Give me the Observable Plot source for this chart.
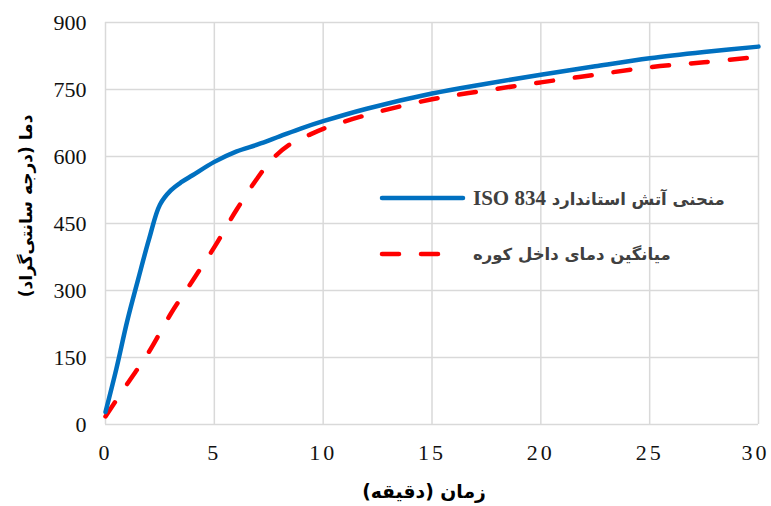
<!DOCTYPE html>
<html><head><meta charset="utf-8">
<script src="https://cdn.jsdelivr.net/npm/d3@7"></script>
<script src="https://cdn.jsdelivr.net/npm/@observablehq/plot@0.6"></script>
<style>
html,body{margin:0;padding:0;background:#fff;}
#wrap{position:relative;width:771px;height:506px;}
.leg{position:absolute;left:473px;white-space:nowrap;font-family:"DejaVu Sans",sans-serif;font-weight:bold;font-size:16.5px;color:#404040;line-height:20px;}
.leg b{font-family:"Liberation Serif",serif;font-size:21px;}
</style>
</head><body><div id="wrap"></div>
<script>
const isoTime = [0, 0.5, 1, 1.5, 2, 2.5, 3, 3.5, 4, 5, 6, 7, 8, 9, 10, 12, 15, 17.5, 20, 22.5, 25, 27.5, 30];
const isoTemp = [28, 125, 232, 325, 415, 492, 524, 543, 558, 588, 611, 627, 645, 663, 679, 707, 741, 763, 783, 802, 820, 834, 846];
const furnaceTime = [0, 1, 2, 3, 4, 5, 6, 7, 7.6, 8.4, 9.3, 10, 12, 15, 17.5, 20, 22.5, 25, 27.5, 30];
const furnaceTemp = [18, 91, 163, 248, 322, 397, 479, 553, 591, 625, 647, 662, 693, 728, 748, 766, 783, 800, 811, 823];
const xTicks = [0, 5, 10, 15, 20, 25, 30];
const yTicks = [0, 150, 300, 450, 600, 750, 900];
const seriesNames = ["منحنی آتش استاندارد ISO 834", "میانگین دمای داخل کوره"];
const xTitle = "زمان (دقیقه)";
const yTitle = "دما (درجه سانتی‌گراد)";

const iso = isoTime.map((t, i) => ({t, v: isoTemp[i]}));
const furnace = furnaceTime.map((t, i) => ({t, v: furnaceTemp[i]}));

const chart = Plot.plot({
  width: 771, height: 506,
  marginLeft: 105, marginRight: 13, marginTop: 22, marginBottom: 82,
  style: {fontFamily: "'Liberation Serif', serif", fontSize: "22px", color: "#111", background: "#fff"},
  x: {domain: [0, 30], ticks: xTicks, label: null},
  y: {domain: [0, 900], ticks: yTicks, label: null},
  marks: [
    Plot.gridX(xTicks, {stroke: "#d9d9d9", strokeOpacity: 1, strokeWidth: 1.5}),
    Plot.gridY(yTicks, {stroke: "#d9d9d9", strokeOpacity: 1, strokeWidth: 1.5}),
    Plot.axisX(xTicks, {tickSize: 0, tickPadding: 20, fontSize: 22, tickFormat: d => String(d)}),
    Plot.axisY(yTicks, {tickSize: 0, tickPadding: 19, fontSize: 22}),
    Plot.line(furnace, {x: "t", y: "v", stroke: "#FF0000", strokeWidth: 4.5, strokeDasharray: "17 22", strokeLinecap: "round", curve: "catmull-rom"}),
    Plot.line(iso, {x: "t", y: "v", stroke: "#0070C0", strokeWidth: 4.5, strokeLinecap: "round", curve: "catmull-rom"})
  ]
});
const wrap = document.getElementById("wrap");
wrap.appendChild(chart);
const svg = d3.select(chart);
// x tick letter spacing (digits drawn slightly apart, as in the reference)
const xLabels = svg.selectAll("g[aria-label='x-axis tick label'] text").style("letter-spacing", "3px");
const lastLabel = xLabels.nodes().pop();
if (lastLabel) lastLabel.setAttribute("dx", "-3");
// axis titles
svg.append("text").attr("x", 424).attr("y", 498).attr("text-anchor", "middle")
  .attr("font-family", "'DejaVu Sans', sans-serif").attr("font-weight", "bold").attr("font-size", 18.8).attr("fill", "#000")
  .text("\u200F" + xTitle + "\u200F");
svg.append("text").attr("transform", "translate(32,206) rotate(-90)").attr("text-anchor", "middle")
  .attr("font-family", "'DejaVu Sans', sans-serif").attr("font-weight", "bold").attr("font-size", 17).attr("fill", "#000")
  .text("\u200F" + yTitle + "\u200F");
// legend swatches
svg.append("line").attr("x1", 382).attr("x2", 463).attr("y1", 198).attr("y2", 198)
  .attr("stroke", "#0070C0").attr("stroke-width", 4.5).attr("stroke-linecap", "round");
svg.append("line").attr("x1", 382).attr("x2", 442).attr("y1", 254).attr("y2", 254)
  .attr("stroke", "#FF0000").attr("stroke-width", 4.5).attr("stroke-linecap", "round").attr("stroke-dasharray", "17 22");
// legend texts
const l1 = document.createElement("div"); l1.className = "leg"; l1.dir = "rtl"; l1.style.top = "188px";
l1.innerHTML = "منحنی آتش استاندارد <b>ISO 834</b>";
const l2 = document.createElement("div"); l2.className = "leg"; l2.dir = "rtl"; l2.style.top = "245px";
l2.textContent = seriesNames[1];
wrap.appendChild(l1); wrap.appendChild(l2);
</script>
</body></html>
